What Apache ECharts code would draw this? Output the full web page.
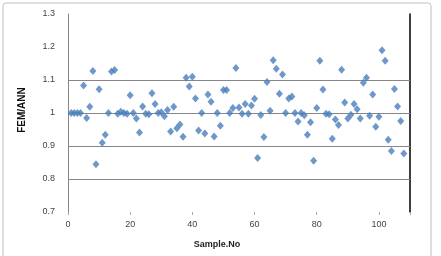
<!DOCTYPE html>
<html>
<head>
<meta charset="utf-8">
<script src="https://cdn.jsdelivr.net/npm/echarts@6/dist/echarts.min.js"></script>
<style>
  html, body { margin: 0; padding: 0; background: #fff; }
  #main { width: 441px; height: 256px; }
</style>
</head>
<body>
<div id="main"></div>
<script>
// FEM/ANN ratio for each sample
var sampleNo = [];
for (var n = 1; n <= 108; n++) { sampleNo.push(n); }
var ratio = [
  1.0, 1.0, 1.0, 1.0, 1.083, 0.985, 1.019, 1.127, 0.845, 1.072,
  0.910, 0.934, 1.0, 1.126, 1.13, 0.998, 1.004, 1.0, 0.998, 1.054,
  1.0, 0.983, 0.941, 1.02, 0.998, 0.996, 1.06, 1.027, 1.0, 1.002,
  0.99, 1.009, 0.944, 1.019, 0.954, 0.965, 0.928, 1.107, 1.08, 1.110,
  1.044, 0.947, 1.0, 0.938, 1.056, 1.034, 0.929, 1.0, 0.961, 1.070,
  1.070, 1.0, 1.015, 1.136, 1.017, 0.998, 1.027, 0.998, 1.023, 1.043,
  0.864, 0.994, 0.927, 1.094, 1.007, 1.160, 1.134, 1.058, 1.117, 1.0,
  1.044, 1.050, 1.0, 0.974, 1.0, 0.993, 0.934, 0.972, 0.855, 1.015,
  1.158, 1.071, 0.998, 0.996, 0.922, 0.980, 0.964, 1.131, 1.032, 0.983,
  0.995, 1.027, 1.011, 0.983, 1.092, 1.107, 0.992, 1.056, 0.958, 0.989,
  1.19, 1.158, 0.919, 0.885, 1.073, 1.020, 0.976, 0.877
];
var gridLines = [0.8, 0.9, 1.0, 1.1];
var yTitle = 'FEM/ANN';
var xTitle = 'Sample.No';

var points = [];
for (var i = 0; i < ratio.length; i++) {
  points.push([sampleNo[i], ratio[i]]);
}

var myChart = echarts.init(document.getElementById('main'));
var option = {
  animation: false,
  textStyle: { fontFamily: 'Liberation Sans, Arial, sans-serif' },
  grid: { left: 68, right: 31, top: 14, bottom: 44 },
  graphic: [
    {
      type: 'rect',
      shape: { x: 3, y: 3, width: 428, height: 262, r: 3 },
      style: { fill: 'none', stroke: '#c0c0c0', lineWidth: 1 }
    },
    {
      type: 'text',
      x: 217, y: 245,
      style: {
        text: xTitle, font: 'bold 9px Liberation Sans, Arial, sans-serif',
        fill: '#222', align: 'center', verticalAlign: 'middle'
      }
    },
    {
      type: 'text',
      x: 22, y: 110,
      rotation: Math.PI / 2,
      style: {
        text: yTitle, font: 'bold 10px Liberation Sans, Arial, sans-serif',
        fill: '#111', align: 'center', verticalAlign: 'middle'
      }
    }
  ],
  xAxis: {
    type: 'value',
    min: 0,
    max: 110,
    interval: 20,
    axisLine: { show: false },
    axisTick: { show: true, length: 3, lineStyle: { color: '#aaa' } },
    splitLine: { show: false },
    axisLabel: {
      fontSize: 9, color: '#444', margin: 8,
      formatter: function (v) { return v % 20 === 0 ? String(v) : ''; }
    }
  },
  yAxis: [
    {
      type: 'value',
      min: 0.7,
      max: 1.3,
      interval: 0.1,
      axisLine: { show: true, lineStyle: { color: '#868686', width: 1 } },
      axisTick: { show: false },
      splitLine: { show: false },
      axisLabel: {
        fontSize: 9, color: '#444', margin: 13,
        formatter: function (v) { return String(Math.round(v * 10) / 10); }
      }
    },
    {
      type: 'value',
      position: 'right',
      min: 0.7,
      max: 1.3,
      interval: 0.1,
      axisLine: { show: true, lineStyle: { color: '#000', width: 1.5 } },
      axisTick: { show: false },
      axisLabel: { show: false },
      splitLine: { show: false }
    }
  ],
  series: [
    {
      type: 'scatter',
      yAxisIndex: 0,
      symbol: 'diamond',
      symbolSize: [7, 8],
      itemStyle: { color: '#4A7EBB' },
      data: points,
      markLine: {
        silent: true,
        symbol: 'none',
        label: { show: false },
        lineStyle: { color: '#868686', width: 1, type: 'solid' },
        data: gridLines.map(function (g) { return { yAxis: g }; }),
        z: 1
      }
    }
  ]
};
myChart.setOption(option);
</script>
</body>
</html>
